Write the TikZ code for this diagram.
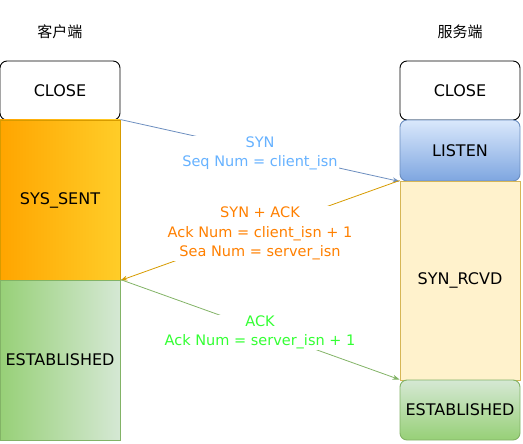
\documentclass[tikz,border=0pt]{standalone}
\usepackage{fontspec}
\setmainfont{DejaVu Sans}
\newfontfamily\cjk{Noto Sans CJK SC}
\usetikzlibrary{arrows.meta}
\definecolor{synblue}{HTML}{6C8EBF}
\definecolor{syntext}{HTML}{66B2FF}
\definecolor{ackorange}{HTML}{D79B00}
\definecolor{acktext}{HTML}{FF8000}
\definecolor{fingreen}{HTML}{82B366}
\definecolor{fintext}{HTML}{33FF33}
\definecolor{ylfill}{HTML}{FFF2CC}
\definecolor{ylline}{HTML}{D6B656}
\definecolor{orleft}{HTML}{FFA500}
\definecolor{orright}{HTML}{FFCD28}
\definecolor{grdark}{HTML}{97D077}
\definecolor{grlight}{HTML}{D5E8D4}
\definecolor{bltop}{HTML}{DAE8FC}
\definecolor{blbot}{HTML}{7EA6E0}
\begin{document}
\begin{tikzpicture}[x=1pt,y=-1pt,
  stbox/.style={draw, line width=0.9pt, minimum width=120pt, inner sep=0pt,
    font=\fontsize{16}{18}\selectfont, text=black},
  msg/.style={fill=white, inner sep=1pt, align=center, yshift=-3pt,
    font=\fontsize{14.5}{19.5}\selectfont},
  conn/.style={line width=0.8pt, -{Stealth[length=7pt,width=5pt]}}]
\useasboundingbox (0,0) rectangle (523,444);
% headers
\node[font=\cjk\fontsize{15}{17}\selectfont] (hc) at (60,32) {客户端};
\node[font=\cjk\fontsize{15}{17}\selectfont] (hs) at (460,32) {服务端};
% client column
\node[stbox, rounded corners=7pt, fill=white, minimum height=59pt] (cclose) at (60,90.5) {CLOSE};
\node[stbox, draw=ackorange, left color=orleft, right color=orright, minimum height=160pt] (csent) at (60,200) {SYS\_SENT};
\node[stbox, draw=fingreen, left color=grdark, right color=grlight, minimum height=160pt] (cest) at (60,360) {ESTABLISHED};
% server column
\node[stbox, rounded corners=7pt, fill=white, minimum height=59pt] (sclose) at (460,90.5) {CLOSE};
\node[stbox, draw=synblue, rounded corners=7pt, top color=bltop, bottom color=blbot, minimum height=61pt] (slisten) at (460,150.5) {LISTEN};
\node[stbox, draw=ylline, fill=ylfill, minimum height=199pt] (srcvd) at (460,280.5) {SYN\_RCVD};
\node[stbox, draw=fingreen, rounded corners=7pt, top color=grlight, bottom color=grdark, minimum height=60pt] (sest) at (460,410) {ESTABLISHED};
% messages
\draw[conn, synblue] (csent.north east) -- (slisten.south west)
  node[msg, text=syntext, pos=0.5] (m1) {SYN\\Seq Num = client\_isn};
\draw[conn, ackorange] (srcvd.north west) -- (csent.south east)
  node[msg, text=acktext, pos=0.5] (m2) {SYN + ACK\\Ack Num = client\_isn + 1\\Sea Num = server\_isn};
\draw[conn, fingreen] (cest.north east) -- (sest.north west)
  node[msg, text=fintext, pos=0.5] (m3) {ACK\\Ack Num = server\_isn + 1};
\end{tikzpicture}
\end{document}
